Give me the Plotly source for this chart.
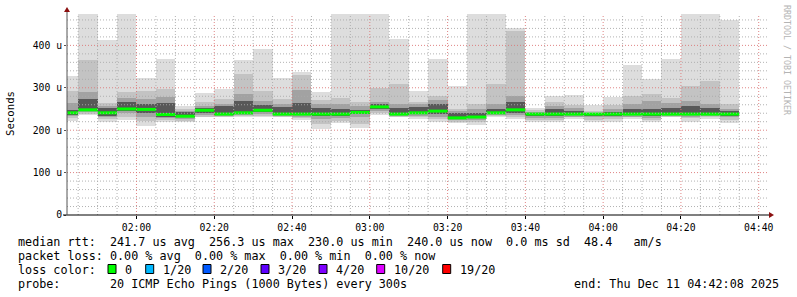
import plotly.graph_objects as go
import pandas as pd

# ---------------- data (microseconds) ----------------
bar_start = pd.date_range("2025-12-11 01:40", periods=35, freq="5min")
hi1 = [327, 520, 412, 520, 324, 369, 256, 288, 296, 366, 391, 324, 338, 289, 520, 520, 520, 414,
       292, 367, 304, 520, 520, 442, 253, 280, 282, 259, 278, 354, 320, 367, 520, 520, 461]
hi2 = [292, 365, 263, 290, 292, 298, 250, 267, 274, 333, 292, 274, 329, 271, 277, 267, 300, 310,
       267, 280, 250, 261, 310, 435, 248, 267, 260, 245, 260, 280, 285, 277, 304, 316, 261]
hi3 = [265, 290, 258, 275, 274, 278, 246, 256, 262, 285, 270, 262, 294, 262, 262, 256, 267, 262,
       262, 272, 246, 250, 262, 280, 244, 258, 252, 240, 250, 262, 268, 265, 268, 262, 250]
hi4 = [248, 274, 252, 267, 262, 265, 243, 252, 256, 268, 260, 255, 265, 252, 250, 248, 262, 252,
       255, 262, 240, 240, 250, 266, 240, 250, 246, 238, 244, 250, 250, 252, 256, 252, 246]
median = [241, 248, 241, 250, 249, 237, 233, 247, 238, 241, 247, 238, 238, 238, 238, 242, 255, 238,
          241, 245, 229, 231, 241, 248, 238, 238, 238, 238, 238, 238, 238, 238, 238, 238, 238]
lo4 = [236, 246, 234, 246, 240, 232, 230, 240, 236, 238, 242, 236, 236, 234, 234, 238, 250, 236,
       238, 238, 226, 228, 238, 240, 234, 234, 236, 234, 234, 236, 234, 236, 236, 236, 234]
lo3 = [233, 242, 230, 240, 232, 228, 226, 236, 234, 236, 238, 234, 232, 226, 228, 230, 246, 234,
       234, 232, 224, 224, 236, 236, 228, 228, 232, 230, 230, 232, 228, 234, 232, 234, 230]
lo2 = [228, 238, 226, 232, 222, 224, 222, 232, 232, 233, 234, 232, 228, 215, 222, 215, 240, 232,
       230, 226, 220, 220, 233, 232, 224, 224, 230, 225, 226, 230, 224, 232, 228, 230, 224]
lo1 = [222, 236, 220, 225, 209, 219, 219, 230, 230, 230, 230, 231, 224, 203, 216, 205, 235, 230,
       227, 219, 217, 212, 231, 227, 219, 219, 227, 219, 219, 227, 219, 230, 219, 227, 217]

y_tickvals = [0, 100, 200, 300, 400]
y_ticktext = ["0", "100 u", "200 u", "300 u", "400 u"]
x_ticktimes = pd.date_range("2025-12-11 02:00", "2025-12-11 04:40", freq="20min")

line1 = "median rtt:  241.7 us avg  256.3 us max  230.0 us min  240.0 us now  0.0 ms sd  48.4   am/s"
line2 = "packet loss: 0.00 % avg  0.00 % max  0.00 % min  0.00 % now"
line3 = "loss color:"
line4 = "probe:       20 ICMP Echo Pings (1000 Bytes) every 300s"
end_text = "end: Thu Dec 11 04:42:08 2025"
loss_labels = ["0", "1/20", "2/20", "3/20", "4/20", "10/20", "19/20"]
loss_colors = ["#00ff00", "#00b8ff", "#0059ff", "#5e00ff", "#7e00ff", "#dd00ff", "#ff0000"]

# ---------------- geometry ----------------
W, H = 797, 297
L, R, T, B = 67, 30, 14, 82
PW, PH = W - L - R, H - T - B
t_start = pd.Timestamp("2025-12-11 01:42:08")
t_end = pd.Timestamp("2025-12-11 04:42:08")
y_max = 474
MONO = "DejaVu Sans Mono"


def px_x(px):
    return (px - L) / PW


def px_y(py):
    return (H - B - py) / PH


fig = go.Figure()
centers = bar_start + pd.Timedelta(minutes=2.5)
bands = [(lo1, hi1, "#dddddd"), (lo2, hi2, "#c3c3c3"), (lo3, hi3, "#a2a2a2"), (lo4, hi4, "#585858")]
for lo, hi, col in bands:
    fig.add_trace(go.Bar(x=centers, y=[h - l for h, l in zip(hi, lo)], base=lo,
                         width=300000, marker=dict(color=col, line=dict(width=0)),
                         hoverinfo="skip", showlegend=False))

mx, my = [], []
for s, m in zip(bar_start, median):
    mx += [s, s + pd.Timedelta(minutes=5), None]
    my += [m, m, None]
fig.add_trace(go.Scatter(x=mx, y=my, mode="lines", line=dict(color="#00ff00", width=3),
                         hoverinfo="skip", showlegend=False))

shapes = []
# grid on top of the smoke
for v in range(20, 461, 20):
    major = v % 100 == 0
    shapes.append(dict(type="line", xref="paper", yref="y", x0=0, x1=1, y0=v, y1=v, layer="above",
                       line=dict(color="rgba(220,120,120,0.9)" if major else "rgba(170,170,170,0.9)",
                                 width=1, dash="1px,2px")))
for t in pd.date_range("2025-12-11 01:45", "2025-12-11 04:40", freq="5min"):
    major = t.minute % 20 == 0
    shapes.append(dict(type="line", xref="x", yref="paper", x0=t, x1=t, y0=0, y1=1, layer="above",
                       line=dict(color="rgba(220,120,120,0.9)" if major else "rgba(170,170,170,0.9)",
                                 width=1, dash="1px,2px")))
# axis lines
shapes.append(dict(type="line", xref="paper", yref="paper", x0=px_x(63), x1=px_x(769),
                   y0=0, y1=0, line=dict(color="#000000", width=1), layer="above"))
shapes.append(dict(type="line", xref="paper", yref="paper", x0=0, x1=0,
                   y0=0, y1=px_y(11), line=dict(color="#555555", width=1), layer="above"))
# arrows
ax0, ay0 = 67, 7
shapes.append(dict(type="path", xref="paper", yref="paper", layer="above",
                   path=f"M {px_x(ax0-3)} {px_y(ay0+5)} L {px_x(ax0+3)} {px_y(ay0+5)} L {px_x(ax0)} {px_y(ay0)} Z",
                   fillcolor="#8b1010", line=dict(width=0)))
bx0, by0 = 774, 215
shapes.append(dict(type="path", xref="paper", yref="paper", layer="above",
                   path=f"M {px_x(bx0-5)} {px_y(by0-3)} L {px_x(bx0-5)} {px_y(by0+3)} L {px_x(bx0)} {px_y(by0)} Z",
                   fillcolor="#8b1010", line=dict(width=0)))

annotations = []


def text(px, py, s, size=11.75, anchor="left", color="#000000", angle=0):
    annotations.append(dict(xref="paper", yref="paper", x=px_x(px), y=px_y(py), text=s.replace(" ", "\u00a0"),
                            showarrow=False, xanchor=anchor, yanchor="middle", textangle=angle,
                            font=dict(family=MONO, size=size, color=color)))


text(16, 241.5, line1)
text(16, 255.5, line2)
text(16, 269.5, line3)
text(16, 283.5, line4)
text(781, 283.5, end_text, anchor="right")
box_x = [108, 145.7, 203, 261, 319, 376.7, 442.7]
for bx, lab, col in zip(box_x, loss_labels, loss_colors):
    shapes.append(dict(type="rect", xref="paper", yref="paper", x0=px_x(bx), x1=px_x(bx + 8),
                       y0=px_y(264.5), y1=px_y(273.5), fillcolor=col, line=dict(color="#000000", width=1)))
    text(bx + 14.8, 269.5, lab)

annotations.append(dict(xref="paper", yref="paper", x=px_x(11), y=px_y(114), text="Seconds",
                        showarrow=False, textangle=-90, xanchor="center", yanchor="middle",
                        font=dict(family=MONO, size=10.7, color="#000000")))
annotations.append(dict(xref="paper", yref="paper", x=px_x(787), y=px_y(60), text="RRDTOOL / TOBI OETIKER",
                        showarrow=False, textangle=90, xanchor="center", yanchor="middle",
                        font=dict(family=MONO, size=8.3, color="#b4b4b4")))

fig.update_layout(
    width=W, height=H, margin=dict(l=L, r=R, t=T, b=B),
    paper_bgcolor="#ffffff", plot_bgcolor="#ffffff",
    barmode="overlay", bargap=0, showlegend=False,
    shapes=shapes, annotations=annotations,
    xaxis=dict(type="date", range=[t_start, t_end], tickvals=list(x_ticktimes),
               ticktext=[t.strftime("%H:%M") for t in x_ticktimes],
               showgrid=False, zeroline=False, showline=False,
               ticks="outside", ticklen=3, tickcolor="#000000",
               tickfont=dict(family=MONO, size=9.75, color="#000000")),
    yaxis=dict(range=[0, y_max], tickvals=y_tickvals, ticktext=y_ticktext,
               showgrid=False, zeroline=False, showline=False,
               ticks="outside", ticklen=2, tickcolor="#555555",
               tickfont=dict(family=MONO, size=9.75, color="#000000")),
)

fig.write_html("out.html")
